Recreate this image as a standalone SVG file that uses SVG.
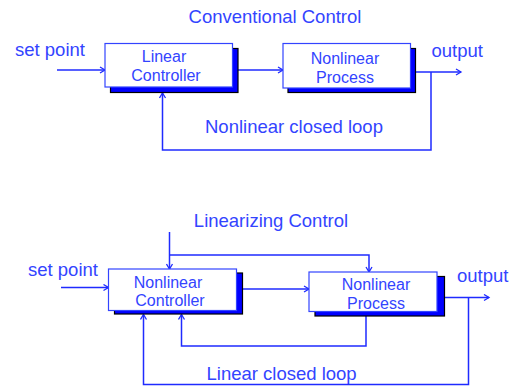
<svg xmlns="http://www.w3.org/2000/svg" width="519" height="386" viewBox="0 0 519 386">
  <style>
    .lbl { font-family: "Liberation Sans", Arial, sans-serif; font-size: 18.5px; fill: #3344ff; }
    .box-txt { font-family: "Liberation Sans", Arial, sans-serif; font-size: 16px; fill: #3344ff; text-anchor: middle; }
    .box { fill: #ffffff; stroke: #3344ff; stroke-width: 1.2; }
    .shadow { fill: #0000ff; stroke: #000000; stroke-width: 1.2; }
    .wire { fill: none; stroke: #1f2bff; stroke-width: 1.5; }
  </style>
  <defs>
    <marker id="arrow" markerWidth="8" markerHeight="8" refX="6" refY="4" orient="auto" markerUnits="userSpaceOnUse">
      <polyline points="1,1 6,4 1,7" fill="none" stroke="#1f2bff" stroke-width="1.3"/>
    </marker>
  </defs>
  <rect width="519" height="386" fill="#ffffff"/>

  <!-- Conventional control -->
  <text class="lbl" x="275" y="23" text-anchor="middle">Conventional Control</text>
  <text class="lbl" x="15" y="56">set point</text>
  <text class="lbl" x="431.5" y="57">output</text>
  <text class="lbl" x="205" y="133">Nonlinear closed loop</text>

  <g id="connectors-top">
    <path class="wire" d="M57 70 H105" marker-end="url(#arrow)"/>
    <path class="wire" d="M238 70 H283" marker-end="url(#arrow)"/>
    <path class="wire" d="M416 72 H461" marker-end="url(#arrow)"/>
    <path class="wire" d="M431 72 V150 H162.5 V93" marker-end="url(#arrow)"/>
  </g>

  <g id="linear-controller">
    <rect class="shadow" x="110.5" y="48.5" width="127.5" height="44"/>
    <rect class="box" x="105" y="43.5" width="127.5" height="43.5"/>
    <text class="box-txt" x="164" y="62">Linear</text>
    <text class="box-txt" x="166" y="81">Controller</text>
  </g>

  <g id="nonlinear-process-top">
    <rect class="shadow" x="288" y="48.5" width="127.5" height="44"/>
    <rect class="box" x="283" y="43.5" width="127.5" height="44.5"/>
    <text class="box-txt" x="345" y="63.5">Nonlinear</text>
    <text class="box-txt" x="345" y="82.5">Process</text>
  </g>

  <!-- Linearizing control -->
  <text class="lbl" x="271" y="226.5" text-anchor="middle">Linearizing Control</text>
  <text class="lbl" x="28" y="276">set point</text>
  <text class="lbl" x="457" y="281.5">output</text>
  <text class="lbl" x="206.5" y="380">Linear closed loop</text>

  <g id="connectors-bottom">
    <path class="wire" d="M61 287.5 H108.5" marker-end="url(#arrow)"/>
    <path class="wire" d="M169.5 232 V269" marker-end="url(#arrow)"/>
    <path class="wire" d="M169.5 255 H369 V272" marker-end="url(#arrow)"/>
    <path class="wire" d="M242.5 289 H309" marker-end="url(#arrow)"/>
    <path class="wire" d="M445 297.5 H489" marker-end="url(#arrow)"/>
    <path class="wire" d="M366 316 V346 H181.5 V314.5" marker-end="url(#arrow)"/>
    <path class="wire" d="M468.5 297.5 V384.5 H143.5 V314.5" marker-end="url(#arrow)"/>
  </g>

  <g id="nonlinear-controller">
    <rect class="shadow" x="114.5" y="273" width="128" height="41"/>
    <rect class="box" x="108.5" y="269" width="128" height="41.5"/>
    <text class="box-txt" x="168" y="287.5">Nonlinear</text>
    <text class="box-txt" x="170" y="306">Controller</text>
  </g>

  <g id="nonlinear-process-bottom">
    <rect class="shadow" x="315" y="276.5" width="129.5" height="39.5"/>
    <rect class="box" x="309" y="272" width="128" height="39.5"/>
    <text class="box-txt" x="376" y="290">Nonlinear</text>
    <text class="box-txt" x="376" y="308.5">Process</text>
  </g>
</svg>
